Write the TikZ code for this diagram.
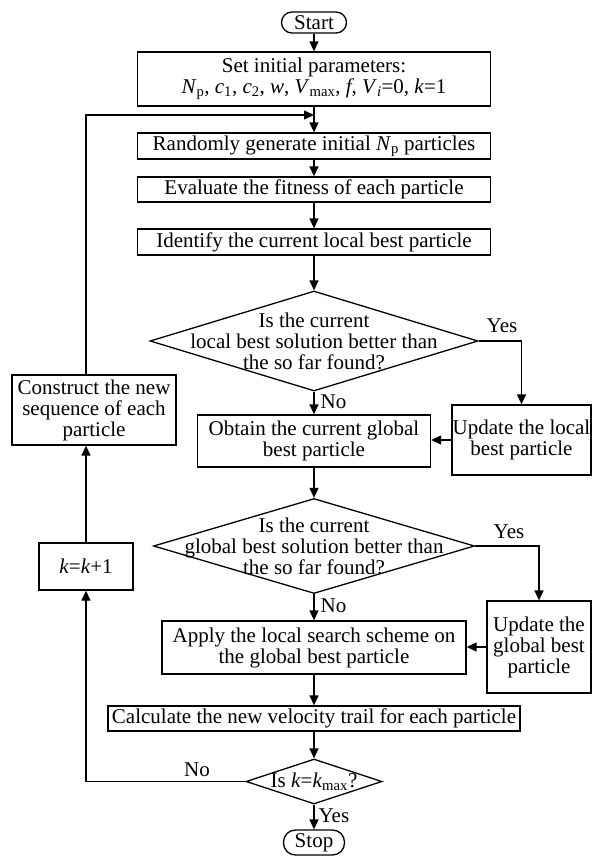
\documentclass[tikz,border=0pt]{standalone}
\usepackage{fontspec}
\setmainfont{Liberation Serif}
\usetikzlibrary{arrows.meta,shapes.geometric}
\begin{document}
\begin{tikzpicture}[x=1pt,y=-1pt,
  font=\fontsize{21}{21}\selectfont,
  line width=1.3pt,
  box/.style={draw, rectangle, inner sep=0pt, align=center},
  term/.style={draw, rectangle, inner sep=0pt},
  dia/.style={draw, diamond, inner sep=0pt},
  txt/.style={inner sep=0pt, align=center},
  arr/.style={-{Triangle[length=10pt,width=9pt]}},
  lbl/.style={inner sep=0pt}
]
\useasboundingbox (0,0) rectangle (592,857);

\node[term, rounded corners=10.5pt, minimum width=65pt, minimum height=21pt] (start) at (314,22.5) {Start};
\node[box, minimum width=353pt, minimum height=54pt] (set) at (314,79) {Set initial parameters:\\ \textit{N}\textsubscript{p}, \textit{c}\textsubscript{1}, \textit{c}\textsubscript{2}, \textit{w}, \textit{V}\textsubscript{max}, \textit{f}, \textit{V}\textsubscript{\textit{i}}=0, \textit{k}=1};
\node[box, minimum width=353pt, minimum height=26pt] (rand) at (314,146) {Randomly generate initial \textit{N}\textsubscript{p} particles};
\node[box, minimum width=353pt, minimum height=25pt] (eval) at (314,189.5) {Evaluate the fitness of each particle};
\node[box, minimum width=353pt, minimum height=26pt] (ident) at (314,242) {Identify the current local best particle};

\node[dia, minimum width=328pt, minimum height=100pt] (d1) at (314,341) {};
\node[txt] (d1t) at (d1.center) {Is the current\\local best solution better than\\the so far found?};

\node[box, minimum width=139pt, minimum height=70pt] (updl) at (521.5,440) {Update the local\\best particle};
\node[box, minimum width=233pt, minimum height=52pt] (obt) at (314,441) {Obtain the current global\\best particle};

\node[dia, minimum width=321pt, minimum height=95pt] (d2) at (314,546) {};
\node[txt] (d2t) at (d2.center) {Is the current\\global best solution better than\\the so far found?};

\node[box, minimum width=104pt, minimum height=92pt] (updg) at (539,647) {Update the\\global best\\particle};
\node[box, minimum width=304pt, minimum height=53pt] (apply) at (314,647.5) {Apply the local search scheme on\\the global best particle};
\node[box, minimum width=412pt, minimum height=25pt] (calc) at (314,718.5) {Calculate the new velocity trail for each particle};

\node[dia, minimum width=136pt, minimum height=45pt] (d3) at (314,781.5) {};
\node[txt] (d3t) at (d3.center) {Is \textit{k}=\textit{k}\textsubscript{max}?};

\node[term, rounded corners=12pt, minimum width=61pt, minimum height=25pt] (stop) at (314,842.5) {Stop};

\node[box, minimum width=164pt, minimum height=70pt] (cons) at (94,410) {Construct the new\\sequence of each\\particle};
\node[box, minimum width=94pt, minimum height=47pt] (kk) at (86,566.5) {\textit{k}=\textit{k}+1};

\coordinate (join) at (314,115);

% main column
\draw[arr] (start) -- (set);
\draw[arr] (set) -- (rand);
\draw[arr] (rand) -- (eval);
\draw[arr] (eval) -- (ident);
\draw[arr] (ident) -- (d1);
\draw[arr] (d1) -- node[lbl, right=6pt, pos=0.45] (no1) {No} (obt);
\draw[arr] (d1.east) -- (updl.north |- d1.east) -- (updl.north);
\node[lbl] (yes1) at (502,326) {Yes};
\draw[arr] (updl.west) -- (updl.west -| obt.east);
\draw[arr] (obt) -- (d2);
\draw[arr] (d2) -- node[lbl, right=6pt, pos=0.45] (no2) {No} (apply);
\draw[arr] (d2.east) -- (updg.north |- d2.east) -- (updg.north);
\node[lbl] (yes2) at (509,532) {Yes};
\draw[arr] (updg.west) -- (updg.west -| apply.east);
\draw[arr] (apply) -- (calc);
\draw[arr] (calc) -- (d3);
\draw[arr] (d3) -- node[lbl, right=4pt, pos=0.45] (yes3) {Yes} (stop);

% loop
\draw[arr] (d3.west) -- (kk.south |- d3.west) -- (kk.south);
\node[lbl] (no3) at (197,770) {No};
\draw[arr] (kk.north) -- (kk.north |- cons.south);
\draw[arr] (kk.north |- cons.north) -- (kk.north |- join) -- (join);
\end{tikzpicture}
\end{document}
